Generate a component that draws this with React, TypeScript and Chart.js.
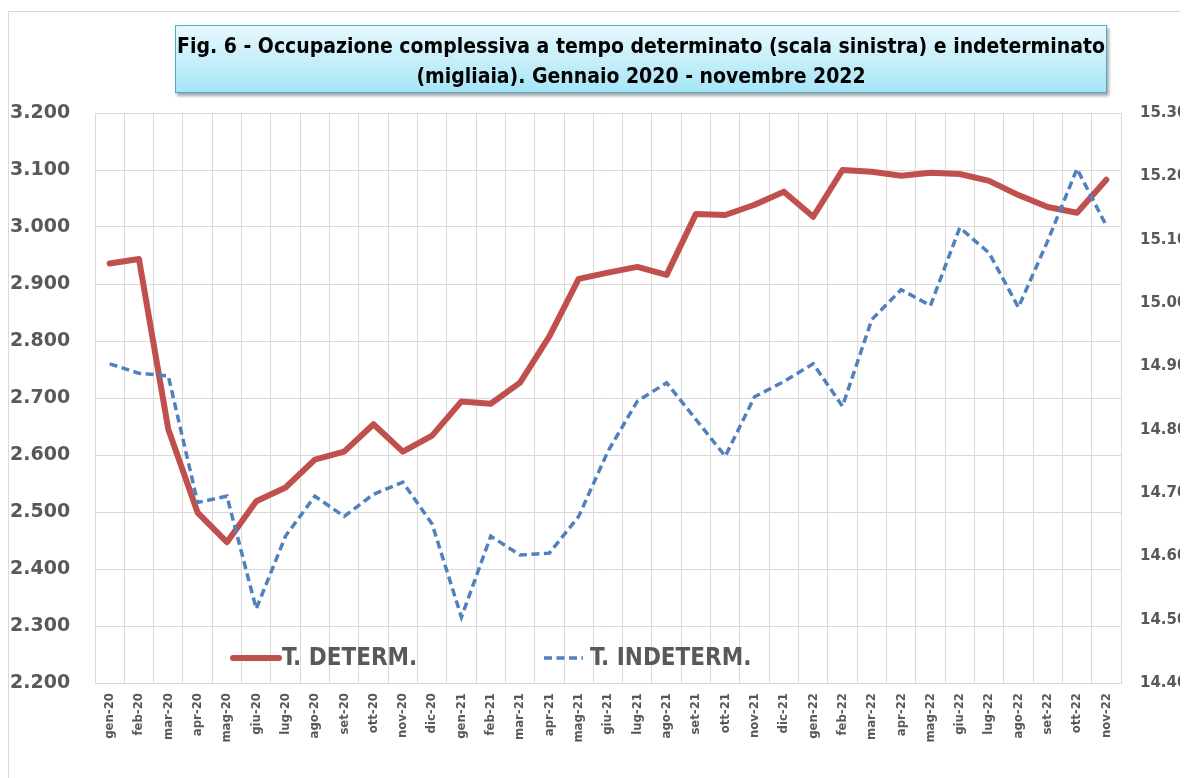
import React, { useEffect, useRef } from "react";
import { Chart, registerables } from "chart.js";

Chart.register(...registerables);

const months = [
  "gen-20", "feb-20", "mar-20", "apr-20", "mag-20", "giu-20", "lug-20", "ago-20", "set-20", "ott-20", "nov-20", "dic-20",
  "gen-21", "feb-21", "mar-21", "apr-21", "mag-21", "giu-21", "lug-21", "ago-21", "set-21", "ott-21", "nov-21", "dic-21",
  "gen-22", "feb-22", "mar-22", "apr-22", "mag-22", "giu-22", "lug-22", "ago-22", "set-22", "ott-22", "nov-22",
];

// Tempo determinato (scala sinistra, migliaia)
const determinato = [
  2936, 2944, 2645, 2499, 2447, 2519, 2543, 2592, 2606, 2654, 2606, 2634,
  2694, 2690, 2727, 2808, 2909, 2920, 2930, 2916, 3023, 3021, 3039, 3062,
  3018, 3100, 3097, 3090, 3095, 3093, 3081, 3056, 3035, 3025, 3083,
];

// Tempo indeterminato (scala destra, migliaia)
const indeterminato = [
  14904, 14889, 14885, 14685, 14695, 14517, 14632, 14695, 14663, 14698, 14717, 14651,
  14504, 14632, 14602, 14605, 14663, 14766, 14845, 14874, 14816, 14758, 14852, 14876,
  14904, 14837, 14974, 15021, 14996, 15119, 15079, 14993, 15098, 15212, 15122,
];

const seriesLabels = ["T. DETERM.", "T. INDETERM."];
const leftAxis = [2200, 3200, 100];
const rightAxis = [14400, 15300, 100];
const titleLines = [
  "Fig. 6 - Occupazione complessiva a tempo determinato (scala sinistra) e indeterminato",
  "(migliaia). Gennaio 2020 - novembre 2022",
];

const NARROW = "'DejaVu Sans Condensed', 'Liberation Sans Narrow', 'Open Sans', sans-serif";
const GRID = "#d9d9d9";
const LABEL = "#595959";

const fmt = (v: number | string) =>
  Math.round(Number(v)).toString().replace(/\B(?=(\d{3})+(?!\d))/g, ".");

const insideLegend = {
  id: "insideLegend",
  afterDatasetsDraw(chart: any) {
    const { ctx, chartArea } = chart;
    const y = chartArea.bottom - 25;
    const slots = [
      { x0: 138, x1: 184, tx: 187 },
      { x0: 449, x1: 488, tx: 495 },
    ];
    chart.data.datasets.forEach((ds: any, i: number) => {
      const s = slots[i];
      ctx.save();
      ctx.strokeStyle = ds.borderColor;
      ctx.lineWidth = ds.borderWidth;
      ctx.lineCap = ds.borderDash && ds.borderDash.length ? "butt" : "round";
      ctx.setLineDash(ds.borderDash || []);
      ctx.beginPath();
      ctx.moveTo(chartArea.left + s.x0, y);
      ctx.lineTo(chartArea.left + s.x1, y);
      ctx.stroke();
      ctx.setLineDash([]);
      ctx.fillStyle = LABEL;
      ctx.font = `bold 24px ${NARROW}`;
      ctx.textBaseline = "middle";
      ctx.textAlign = "left";
      ctx.fillText(ds.label, chartArea.left + s.tx, y + 1);
      ctx.restore();
    });
  },
};

export default function App() {
  const ref = useRef<HTMLCanvasElement | null>(null);

  useEffect(() => {
    document.documentElement.style.overflow = "hidden";
    if (!ref.current) return;
    const chart = new Chart(ref.current, {
      type: "line",
      data: {
        labels: months,
        datasets: [
          {
            label: seriesLabels[0],
            data: determinato,
            yAxisID: "y",
            borderColor: "#c0504d",
            backgroundColor: "#c0504d",
            borderWidth: 6,
            pointRadius: 0,
            tension: 0,
            borderJoinStyle: "round",
            borderCapStyle: "round",
            order: 2,
          },
          {
            label: seriesLabels[1],
            data: indeterminato,
            yAxisID: "y1",
            borderColor: "#4f81bd",
            backgroundColor: "#4f81bd",
            borderWidth: 3.5,
            borderDash: [8, 4.5],
            pointRadius: 0,
            tension: 0,
            order: 1,
          },
        ],
      },
      options: {
        responsive: false,
        animation: false,
        layout: { padding: { left: 2, top: 105, right: 0, bottom: 0 } },
        plugins: {
          legend: { display: false },
          title: { display: false },
          tooltip: { enabled: false },
        },
        scales: {
          x: {
            type: "category",
            offset: true,
            grid: { offset: true, color: GRID, lineWidth: 1, drawTicks: false },
            border: { color: GRID, width: 1 },
            ticks: {
              autoSkip: false,
              maxRotation: 90,
              minRotation: 90,
              padding: 10,
              color: LABEL,
              font: { family: NARROW, size: 13, weight: "bold" },
            },
            afterFit: (s: any) => {
              s.height = 95;
            },
          },
          y: {
            position: "left",
            min: leftAxis[0],
            max: leftAxis[1],
            grid: { color: GRID, lineWidth: 1, drawTicks: false },
            border: { color: GRID, width: 1 },
            ticks: {
              stepSize: leftAxis[2],
              callback: (v: any) => fmt(v),
              crossAlign: "far",
              color: LABEL,
              font: { family: "'DejaVu Sans', sans-serif", size: 19, weight: "bold" },
            },
            afterFit: (s: any) => {
              s.width = 85;
            },
          },
          y1: {
            position: "right",
            min: rightAxis[0],
            max: rightAxis[1],
            grid: { display: false, drawTicks: false },
            border: { display: true, color: GRID, width: 1 },
            ticks: {
              stepSize: rightAxis[2],
              callback: (v: any) => fmt(v),
              padding: 19,
              color: LABEL,
              font: { family: "'DejaVu Sans', sans-serif", size: 15, weight: "bold" },
            },
            afterFit: (s: any) => {
              s.width = 92;
            },
          },
        },
      } as any,
      plugins: [insideLegend],
    });
    return () => chart.destroy();
  }, []);

  return (
    <div style={{ position: "relative", width: 1180, height: 770, overflow: "hidden", background: "#fff" }}>
      <div
        style={{
          position: "absolute",
          left: 0,
          top: 3,
          width: 1400,
          height: 1000,
          border: `1px solid ${GRID}`,
          boxSizing: "border-box",
        }}
      />
      <canvas
        ref={ref}
        width={1205}
        height={770}
        style={{ position: "absolute", left: 0, top: 0, width: 1205, height: 770 }}
      />
      <div
        style={{
          position: "absolute",
          left: 167,
          top: 17,
          width: 932,
          height: 68,
          boxSizing: "border-box",
          border: "1px solid #4bacc6",
          background: "linear-gradient(to bottom, #e6f8fd 0%, #c8effa 50%, #a6e5f7 100%)",
          boxShadow: "2px 3px 3px rgba(0,0,0,0.35)",
          fontFamily: NARROW,
          fontWeight: "bold",
          fontSize: 21,
          lineHeight: "30px",
          paddingTop: 5,
          textAlign: "center",
          color: "#000",
          whiteSpace: "nowrap",
        }}
      >
        <div>{titleLines[0]}</div>
        <div>{titleLines[1]}</div>
      </div>
    </div>
  );
}
